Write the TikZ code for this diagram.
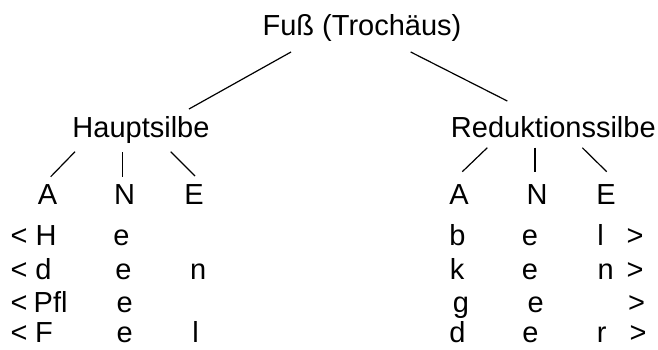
\documentclass[tikz,border=0pt]{standalone}
\usepackage{fontspec}
\setmainfont{Liberation Sans}
\begin{document}
\begin{tikzpicture}[x=1pt,y=-1pt,
  txt/.style={inner sep=0pt, outer sep=0pt, anchor=base, font=\fontsize{29}{34}\selectfont},
  txtw/.style={txt, anchor=base west},
  conn/.style={draw=black, line width=1.2pt}]
\useasboundingbox (0,0) rectangle (658,349);
% tree labels
\node[txt] (title) at (362,35) {Fuß (Trochäus)};
\node[txt] (haupt) at (141,137) {Hauptsilbe};
\node[txt] (red) at (553.3,137) {Reduktionssilbe};
\node[txt] (hA) at (47.5,204.5) {A};
\node[txt] (hN) at (124.5,204.5) {N};
\node[txt] (hE) at (194,204.5) {E};
\node[txt] (rA) at (459,204.5) {A};
\node[txt] (rN) at (537,204.5) {N};
\node[txt] (rE) at (606,204.5) {E};
% connector end points
\coordinate (t1) at (291,52);   \coordinate (h0) at (189,109);
\coordinate (t2) at (410.7,52); \coordinate (r0) at (507.3,101);
\coordinate (h1) at (75,151.7);   \coordinate (hA0) at (50.7,176.7);
\coordinate (h2) at (122.7,152);  \coordinate (hN0) at (122.7,177);
\coordinate (h3) at (170.7,151.7);\coordinate (hE0) at (195,176);
\coordinate (r1) at (487.3,147.7);\coordinate (rA0) at (462.3,171.7);
\coordinate (r2) at (535,147.5);  \coordinate (rN0) at (535,172);
\coordinate (r3) at (582.3,147.7);\coordinate (rE0) at (606.7,171.7);
\draw[conn] (t1) -- (h0);
\draw[conn] (t2) -- (r0);
\draw[conn] (h1) -- (hA0);
\draw[conn] (h2) -- (hN0);
\draw[conn] (h3) -- (hE0);
\draw[conn] (r1) -- (rA0);
\draw[conn] (r2) -- (rN0);
\draw[conn] (r3) -- (rE0);
% left rows
\node[txt] (l1a) at (19,245) {<};
\node[txt] (l1b) at (46,245) {H};
\node[txt] (l1c) at (121.5,245) {e};
\node[txt] (l2a) at (19,279) {<};
\node[txt] (l2b) at (43.5,279) {d};
\node[txt] (l2c) at (123.5,279) {e};
\node[txt] (l2d) at (198.3,279) {n};
\node[txt] (l3a) at (19,312.5) {<};
\node[txtw] (l3b) at (33.7,312.5) {Pf{}l};
\node[txt] (l3c) at (124.7,312.5) {e};
\node[txt] (l4a) at (19,342.5) {<};
\node[txt] (l4b) at (44,342.5) {F};
\node[txt] (l4c) at (124.7,342.5) {e};
\node[txt] (l4d) at (195.5,342.5) {l};
% right rows
\node[txt] (r1a) at (457.5,245) {b};
\node[txt] (r1b) at (530,245) {e};
\node[txt] (r1c) at (600.5,245) {l};
\node[txt] (r1d) at (635,245) {>};
\node[txt] (r2a) at (457,279) {k};
\node[txt] (r2b) at (530,279) {e};
\node[txt] (r2c) at (605.8,279) {n};
\node[txt] (r2d) at (635,279) {>};
\node[txt] (r3a) at (461,312.5) {g};
\node[txt] (r3b) at (535.8,312.5) {e};
\node[txt] (r3d) at (636.7,312.5) {>};
\node[txt] (r4a) at (457.5,342.5) {d};
\node[txt] (r4b) at (530.5,342.5) {e};
\node[txt] (r4c) at (601.7,342.5) {r};
\node[txt] (r4d) at (638,342.5) {>};
\end{tikzpicture}
\end{document}
